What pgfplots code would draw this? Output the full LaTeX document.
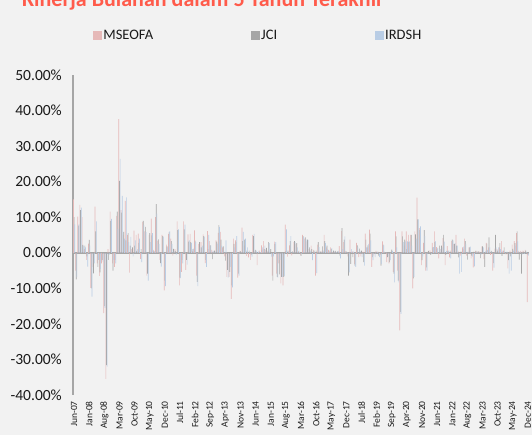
\documentclass[border=0pt]{standalone}
\usepackage{pgfplots}
\pgfplotsset{compat=1.18}
\usepackage{pgfplotstable}
\usepackage{fontspec}
\setmainfont{Carlito}
\definecolor{cpink}{HTML}{E6B9B8}
\definecolor{cgray}{HTML}{A6A6A6}
\definecolor{cblue}{HTML}{B9CDE5}
\definecolor{bg}{HTML}{F2F2F2}
\definecolor{txt}{HTML}{1A1A1A}
\definecolor{ttl}{HTML}{FF5B4B}

\pgfplotstableread{
m a b c
0 15.0 10.0 8.0
1 -5.0 -7.5 -6.8
2 10.2 7.6 8.0
3 13.5 12.0 12.7
4 10.0 2.2 2.0
5 1.0 2.0 1.5
6 -2.0 -1.0 -3.9
7 2.6 3.6 2.0
8 -9.9 -10.0 -12.3
9 -4.0 -5.8 -3.0
10 13.0 6.0 8.8
11 -3.0 -4.0 -2.0
12 -6.5 -5.5 -4.5
13 -3.0 -2.0 -2.5
14 -17.0 -15.0 -15.5
15 -35.5 -31.6 -32.0
16 1.0 -2.0 -0.5
17 11.6 9.0 9.5
18 -3.0 -5.0 -2.0
19 -4.0 -2.0 -3.0
20 10.4 11.6 6.7
21 37.6 20.2 26.4
22 12.0 11.3 16.0
23 5.0 5.9 4.0
24 14.6 3.5 15.6
25 5.0 5.5 3.0
26 -5.6 2.0 4.5
27 1.0 1.5 -1.0
28 6.2 2.0 3.5
29 5.0 0.5 1.0
30 5.4 2.8 4.0
31 -1.7 1.0 -2.6
32 8.7 9.0 7.8
33 6.0 7.3 5.9
34 -6.4 -5.9 -7.8
35 5.0 5.5 3.0
36 9.6 4.9 5.5
37 0.8 0.5 0.3
38 10.0 13.7 11.0
39 3.4 3.8 2.5
40 -2.0 -2.9 -3.9
41 5.0 4.7 4.5
42 -10.6 -7.8 -9.4
43 2.3 1.8 1.5
44 5.3 5.8 6.0
45 4.0 3.3 2.5
46 -0.8 1.1 0.5
47 1.0 0.5 -0.5
48 8.8 6.4 6.6
49 -9.2 -7.0 -7.1
50 -5.4 -2.0 -3.0
51 8.8 6.6 7.9
52 -4.8 -2.0 -3.3
53 5.2 3.1 3.5
54 5.3 3.0 2.7
55 0.5 1.0 1.2
56 6.3 3.4 3.0
57 -6.4 -8.2 -9.4
58 2.5 3.0 1.5
59 3.0 1.5 2.0
60 5.2 4.7 4.5
61 -2.9 -2.0 -4.0
62 6.1 1.0 5.0
63 3.3 2.1 2.1
64 0.8 -1.8 0.5
65 0.5 0.6 0.3
66 3.5 3.1 2.6
67 5.6 7.8 7.3
68 5.9 3.7 2.0
69 1.5 1.8 0.6
70 -1.0 -2.2 3.5
71 -6.8 -4.8 -7.0
72 -6.8 -5.4 -4.0
73 -13.0 -9.2 -9.7
74 4.0 2.5 1.5
75 3.5 3.0 4.7
76 -7.0 -5.9 -6.4
77 0.6 0.4 0.2
78 7.1 3.3 5.9
79 2.0 3.7 4.0
80 -0.9 0.6 1.5
81 -1.3 0.6 0.2
82 -2.0 -0.5 -1.1
83 5.0 4.7 5.3
84 0.6 0.8 0.6
85 -3.5 0.2 0.3
86 0.6 0.2 0.2
87 2.1 0.9 1.5
88 3.3 1.0 2.0
89 0.9 1.4 0.5
90 0.5 3.0 2.7
91 0.5 1.0 -1.1
92 -6.4 -7.8 -1.0
93 3.1 2.5 3.0
94 -5.9 -6.8 -7.0
95 -3.0 -6.1 -2.0
96 -8.6 -6.8 -6.8
97 -9.2 -6.8 -6.5
98 7.9 0.5 6.6
99 -1.1 0.6 0.3
100 2.1 3.3 4.7
101 -0.7 0.4 0.2
102 3.0 3.3 3.0
103 2.5 2.7 1.5
104 0.3 0.5 0.2
105 -0.5 -0.9 -0.3
106 5.0 4.7 4.5
107 4.0 4.3 3.8
108 3.2 3.7 3.6
109 1.0 1.5 0.6
110 2.0 1.0 -2.1
111 0.8 0.6 0.3
112 -6.4 0.6 -5.7
113 2.3 3.0 1.6
114 0.3 0.3 0.2
115 0.5 1.8 0.6
116 5.0 3.3 2.7
117 1.5 2.0 1.0
118 0.8 0.6 0.3
119 1.5 1.1 1.3
120 0.2 0.6 0.4
121 0.4 0.5 0.2
122 0.3 0.4 0.5
123 1.9 -0.8 -1.6
124 6.1 6.9 1.0
125 3.0 3.7 4.6
126 0.5 0.3 0.2
127 -1.0 -6.4 -5.5
128 3.7 -3.1 1.0
129 0.4 -1.2 0.3
130 -3.1 -3.6 -4.0
131 2.8 2.1 1.6
132 -1.2 1.2 0.5
133 -1.0 0.6 -1.2
134 0.3 -2.6 -3.6
135 5.4 3.7 1.5
136 1.5 2.1 2.5
137 6.5 5.4 3.5
138 -4.0 -1.2 -2.1
139 -0.8 0.2 -1.2
140 0.5 0.2 0.3
141 0.3 -0.8 -1.2
142 -0.5 -3.6 -3.1
143 3.2 2.3 2.1
144 0.3 0.2 0.1
145 -2.6 -1.2 -1.0
146 -3.0 -2.6 -2.1
147 0.3 0.9 0.5
148 -5.4 -5.9 -8.3
149 6.0 4.6 1.5
150 -5.0 -7.8 -8.3
151 -21.8 -16.6 -17.2
152 6.0 4.6 3.0
153 2.0 3.7 3.2
154 6.0 1.0 3.2
155 5.0 3.0 3.2
156 5.0 5.0 2.0
157 -10.0 -7.2 -6.8
158 6.0 5.2 4.0
159 15.5 9.4 9.4
160 6.9 6.4 7.4
161 -3.5 -2.1 -1.0
162 2.8 6.4 4.7
163 -5.0 -4.1 -5.0
164 0.3 0.5 0.2
165 0.7 -0.6 -0.3
166 2.8 1.5 1.6
167 6.0 3.0 3.3
168 1.6 1.1 1.4
169 -1.6 2.0 1.1
170 1.0 2.0 1.5
171 4.1 5.0 3.1
172 -3.5 -0.6 0.5
173 1.9 0.5 0.6
174 -1.3 0.6 -1.6
175 3.3 3.7 3.5
176 2.5 2.5 2.7
177 5.0 2.0 2.0
178 0.5 -1.3 -5.9
179 -0.8 0.3 -5.4
180 1.5 1.1 1.7
181 4.0 3.3 2.5
182 -0.8 -1.9 0.3
183 1.5 1.5 1.7
184 -1.6 -0.8 -1.1
185 -4.1 0.3 -3.8
186 0.5 0.5 0.2
187 0.3 0.4 0.2
188 0.3 -1.5 -0.5
189 1.8 1.8 1.5
190 -1.8 -4.0 0.5
191 2.8 2.6 0.8
192 1.5 4.3 1.5
193 -0.6 0.5 0.3
194 -5.0 -2.9 -4.2
195 1.2 5.0 1.5
196 1.0 0.6 1.5
197 1.5 2.7 1.0
198 3.3 -0.9 0.6
199 0.6 1.5 0.3
200 -0.4 -0.4 0.3
201 -4.4 -2.1 -5.9
202 0.6 -1.0 -5.0
203 2.3 1.1 0.6
204 3.3 2.7 2.0
205 5.5 6.0 3.2
206 0.5 -1.9 0.3
207 0.5 -5.9 -0.5
208 0.6 0.3 -0.3
209 0.8 0.6 0.2
210 -13.9 -0.5 -0.8
}\datatable

\begin{document}
\begin{tikzpicture}[x=1bp,y=1bp]
\fill[bg] (0,0) rectangle (532,435);
\useasboundingbox (0,0) rectangle (532,435);
\node[anchor=base west, text=ttl, font=\fontsize{22bp}{25bp}\selectfont\bfseries, inner sep=0pt] at (22,428) {Kinerja Bulanan dalam 5 Tahun Terakhir};
\begin{axis}[
  at={(73bp,40bp)}, anchor=south west,
  scale only axis, width=456bp, height=320bp,
  xmin=-0.5, xmax=210.5, ymin=-40, ymax=50,
  ybar=0pt, bar width=0.3,
  axis y line=left, axis x line=bottom,
  x axis line style={draw=none},
  y axis line style={draw=cgray, line width=1.5bp, -},
  major tick length=0pt,
  xtick={0,7,...,210},
  xticklabels={Jun-07,Jan-08,Aug-08,Mar-09,Oct-09,May-10,Dec-10,Jul-11,Feb-12,Sep-12,Apr-13,Nov-13,Jun-14,Jan-15,Aug-15,Mar-16,Oct-16,May-17,Dec-17,Jul-18,Feb-19,Sep-19,Apr-20,Nov-20,Jun-21,Jan-22,Aug-22,Mar-23,Oct-23,May-24,Dec-24},
  x tick label style={rotate=90, anchor=east, inner sep=0pt, font=\fontsize{9.5bp}{11bp}\selectfont, text=txt},
  xticklabel shift=6bp,
  ytick={-40,-30,...,50},
  yticklabels={-40.00\%,-30.00\%,-20.00\%,-10.00\%,0.00\%,10.00\%,20.00\%,30.00\%,40.00\%,50.00\%},
  y tick label style={anchor=east, inner sep=0pt, font=\fontsize{15.5bp}{17bp}\selectfont, text=txt},
  yticklabel shift=11bp,
  extra y ticks={0}, extra y tick labels={},
  extra y tick style={grid=major, major grid style={draw=cgray, line width=1.5bp}},
  legend columns=3,
  legend style={at={(0.0437,1.122)}, anchor=west, draw=none, fill=none,
    inner sep=0pt, outer sep=0pt, text=txt,
    nodes={inner xsep=1.5bp},
    font=\fontsize{14.5bp}{17bp}\selectfont,
    /tikz/every even column/.append style={column sep=96bp}},
  legend image code/.code={\fill[#1] (0bp,-4.5bp) rectangle (9bp,4.5bp);},
]
\addplot[fill=cpink, draw=none] table[x=m, y=a]{\datatable};
\addplot[fill=cgray, draw=none] table[x=m, y=b]{\datatable};
\addplot[fill=cblue, draw=none] table[x=m, y=c]{\datatable};
\legend{MSEOFA,JCI,IRDSH}
\end{axis}
\end{tikzpicture}
\end{document}
